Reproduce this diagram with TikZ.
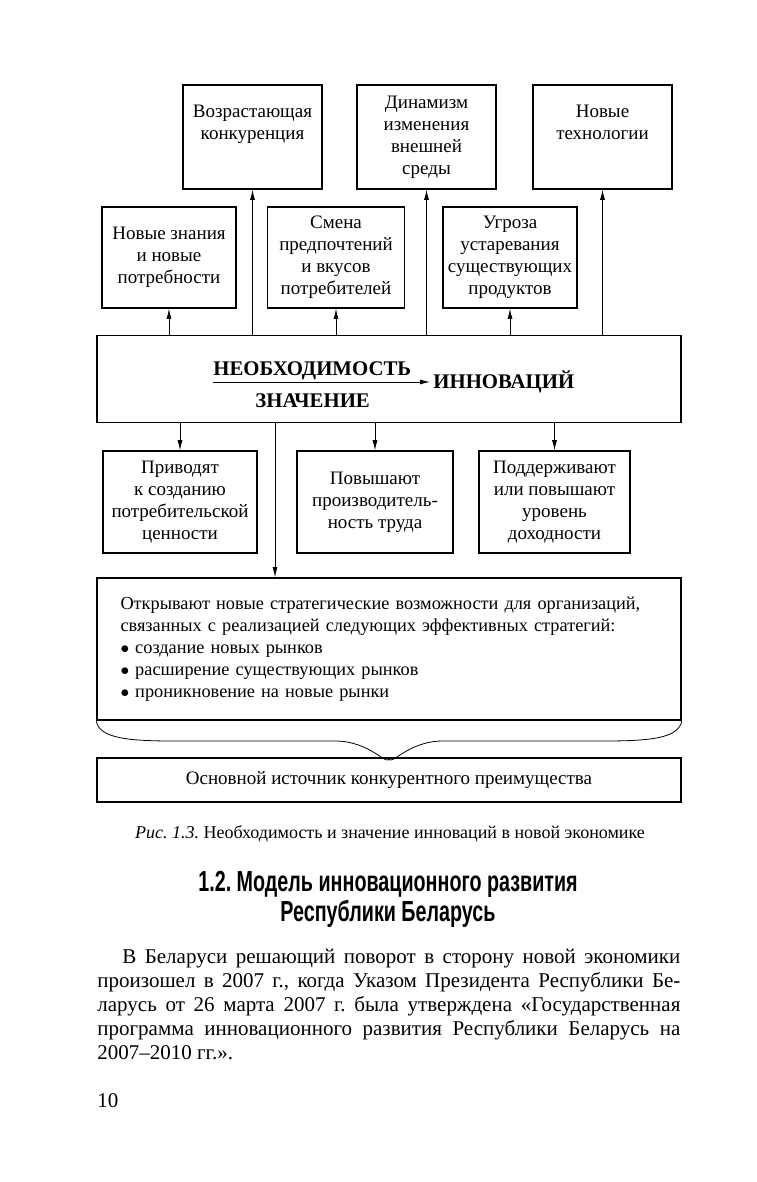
\documentclass[tikz,border=0pt]{standalone}
\usepackage{fontspec}
\setmainfont{Liberation Serif}
\newfontfamily\headfont[FakeStretch=0.68]{Liberation Sans}
\usetikzlibrary{arrows.meta}
\frenchspacing

\begin{document}
\begin{tikzpicture}[x=1pt, y=-1pt, line width=0.8pt,
        >={Latex[length=10pt,width=5pt]},
        every node/.style={inner sep=0pt},
        box/.style={draw, line width=1.6pt, align=center,
        font=\fontsize{19}{22}\selectfont},
        toptext/.style={text depth=30pt},
        caps/.style={font=\fontsize{20.8}{24}\selectfont\bfseries}
        ]
    \useasboundingbox (0,0) rectangle (756,1182);

    \node[box, toptext, minimum width=139, minimum height=104] (t_1) at (252.5,137) {Возрастающая\\конкуренция};
    \node[box, minimum width=139, minimum height=104] (t_2) at (426.5,137) {Динамизм\\изменения\\внешней\\среды};
    \node[box, toptext, minimum width=139, minimum height=104] (t_3) at (602.5,137) {Новые\\технологии};

    \node[box, minimum width=134, minimum height=101] (r_1) at (169,257.5) {Новые знания\\и новые\\потребности};
    \node[box, minimum width=137, minimum height=101] (r_2) at (336,257.5) {Смена\\предпочтений\\и вкусов\\потребителей};
    \node[box, minimum width=134, minimum height=101] (r_3) at (510,257.5) {Угроза\\устаревания\\существующих\\продуктов};

    \node[box, minimum width=584, minimum height=87] (main) at (389,379) {};
    \node[caps, anchor=base west] (neob) at (213,375) {НЕОБХОДИМОСТЬ};
    \node[caps, anchor=base west] (znach) at (255,407) {ЗНАЧЕНИЕ};
    \node[caps, anchor=base west] (innov) at (433,388) {ИННОВАЦИЙ};
    \coordinate (a_s) at (213,382);
    \draw [->] (a_s) -- ([xshift=-3pt]a_s -| innov.west);

    \node[box, minimum width=154, minimum height=102] (b_1) at (180,502) {Приводят\\к созданию\\потребительской\\ценности};
    \node[box, minimum width=156, minimum height=102] (b_2) at (375,502) {Повышают\\производитель-\\ность труда};
    \node[box, minimum width=151, minimum height=102] (b_3) at (554.5,502) {Поддерживают\\или повышают\\уровень\\доходности};

    \node[box, align=left, text width=537pt, inner xsep=23.5pt, minimum height=142,
        font=\fontsize{18.3}{22}\selectfont] (big) at (389,649) {Открывают новые стратегические возможности для организаций,\\связанных с реализацией следующих эффективных стратегий:\\$\bullet$ создание новых рынков\\$\bullet$ расширение существующих рынков\\$\bullet$ проникновение на новые рынки};
    \node[box, minimum width=584, minimum height=44] (base) at (389,780) {Основной источник конкурентного преимущества};

    \draw [->] (main.north -| t_1.south) -- (t_1.south);
    \draw [->] (main.north -| t_2.south) -- (t_2.south);
    \draw [->] (main.north -| t_3.south) -- (t_3.south);
    \draw [->] (main.north -| r_1.south) -- (r_1.south);
    \draw [->] (main.north -| r_2.south) -- (r_2.south);
    \draw [->] (main.north -| r_3.south) -- (r_3.south);
    \draw [->] (main.south -| b_1.north) -- (b_1.north);
    \draw [->] (main.south -| b_2.north) -- (b_2.north);
    \draw [->] (main.south -| b_3.north) -- (b_3.north);
    \draw [->] ([xshift=-114pt]main.south) -- ([xshift=-114pt]main.south |- big.north);

    \coordinate (tip) at (base.north);
    \draw (big.south west) .. controls ++(3,18) and (130,741) .. (175,741) -- (335,741)
        .. controls (372,741) and ([yshift=-12pt]tip) .. (tip);
    \draw (big.south east) .. controls ++(-3,18) and (648,741) .. (603,741) -- (443,741)
        .. controls (406,741) and ([yshift=-12pt]tip) .. (tip);

    \node (cap) at (390,834) {\fontsize{18}{21}\selectfont\itshape Рис. 1.3.\upshape{} Необходимость и значение инноваций в новой экономике};
    \node[align=center, font=\headfont\bfseries\fontsize{29}{30}\selectfont] (head) at (388,899) {1.2. Модель инновационного развития\\Республики Беларусь};
    \node[anchor=north west] (body) at (97,949) {\parbox{583pt}{\fontsize{21}{24}\selectfont
        \hspace*{25pt}В Беларуси решающий поворот в сторону новой экономики\linebreak
        произошел в 2007 г., когда Указом Президента Республики Бе-\linebreak
        ларусь от 26 марта 2007 г. была утверждена «Государственная\linebreak
        программа инновационного развития Республики Беларусь на\linebreak
        2007–2010 гг.».}};
    \node[anchor=base west, font=\fontsize{21}{24}\selectfont] (pg) at (97,1107) {10};
\end{tikzpicture}
\end{document}
